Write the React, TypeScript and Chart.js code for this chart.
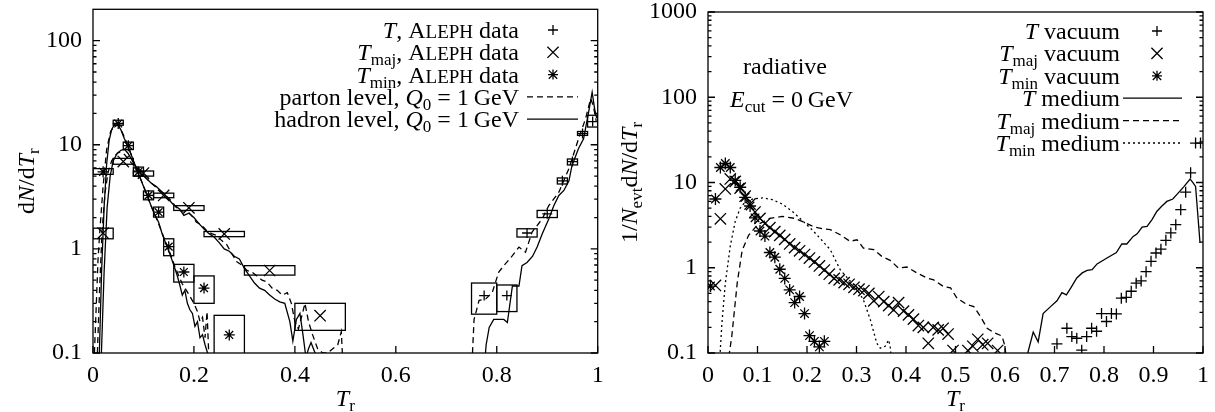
import React, { useEffect, useRef } from "react";
import { Chart, registerables } from "chart.js";

Chart.register(...registerables);

const SERIF = '"Liberation Serif", "Times New Roman", serif';
const FS = 24;
const SUB_FS = 17;

// ---------------- left panel ----------------
const L_X_TICKS = [0, 0.2, 0.4, 0.6, 0.8, 1];
const L_X_LABELS = ["0", "0.2", "0.4", "0.6", "0.8", "1"];
const L_Y_TICKS = [0.1, 1, 10, 100];
const L_Y_LABELS = ["0.1", "1", "10", "100"];

// T, ALEPH data
const T_X = [0.775, 0.82, 0.86, 0.9, 0.93, 0.95, 0.97, 0.99];
const T_Y = [0.356, 0.356, 1.42, 2.17, 4.5, 6.9, 12.8, 16.7];
const T_XLO = [0.75, 0.8, 0.84, 0.88, 0.92, 0.94, 0.96, 0.98];
const T_XHI = [0.8, 0.84, 0.88, 0.92, 0.94, 0.96, 0.98, 1.0];
const T_YLO = [0.236, 0.25, 1.3, 2.0, 4.2, 6.4, 12.3, 14.8];
const T_YHI = [0.47, 0.45, 1.56, 2.34, 4.8, 7.3, 13.4, 19.2];

// T_maj, ALEPH data
const TMAJ_X = [0.02, 0.06, 0.1, 0.14, 0.19, 0.26, 0.35, 0.45];
const TMAJ_Y = [1.42, 6.9, 5.35, 3.26, 2.48, 1.39, 0.62, 0.228];
const TMAJ_XLO = [0, 0.04, 0.08, 0.12, 0.16, 0.22, 0.3, 0.4];
const TMAJ_XHI = [0.04, 0.08, 0.12, 0.16, 0.22, 0.3, 0.4, 0.5];
const TMAJ_YLO = [1.25, 6.5, 5.0, 3.1, 2.34, 1.31, 0.56, 0.165];
const TMAJ_YHI = [1.58, 7.4, 5.6, 3.43, 2.6, 1.47, 0.69, 0.3];

// T_min, ALEPH data
const TMIN_X = [0.02, 0.05, 0.07, 0.09, 0.11, 0.13, 0.15, 0.18, 0.22, 0.27];
const TMIN_Y = [5.5, 16, 9.8, 5.5, 3.26, 2.25, 1.05, 0.6, 0.42, 0.149];
const TMIN_XLO = [0, 0.04, 0.06, 0.08, 0.1, 0.12, 0.14, 0.16, 0.2, 0.24];
const TMIN_XHI = [0.04, 0.06, 0.08, 0.1, 0.12, 0.14, 0.16, 0.2, 0.24, 0.3];
const TMIN_YLO = [5.2, 15.4, 9.0, 5.0, 2.96, 2.02, 0.86, 0.48, 0.3, 0.09];
const TMIN_YHI = [5.9, 17.2, 10.6, 6.1, 3.6, 2.52, 1.25, 0.71, 0.55, 0.23];

// hadron level (solid) / parton level (dashed), Q0 = 1 GeV
const HAD_TMIN_X = [0.012, 0.017, 0.022, 0.027, 0.032, 0.037, 0.042, 0.047, 0.055, 0.062, 0.07, 0.078, 0.085, 0.092, 0.1, 0.107, 0.115, 0.122, 0.13, 0.137, 0.145, 0.152, 0.16, 0.167, 0.172, 0.177, 0.182, 0.187, 0.192, 0.197, 0.202, 0.207, 0.212, 0.217, 0.222, 0.227, 0.232];
const HAD_TMIN_Y = [0.08, 0.6, 2.5, 6.5, 11, 14, 15.5, 16.2, 14, 11.5, 9.5, 7.5, 6, 5, 4, 3.3, 2.6, 2.15, 1.8, 1.4, 1.1, 0.9, 0.7, 0.55, 0.45, 0.36, 0.4, 0.3, 0.26, 0.24, 0.18, 0.2, 0.14, 0.15, 0.12, 0.1, 0.08];
const PAR_TMIN_X = [0.002, 0.006, 0.01, 0.014, 0.02, 0.027, 0.035, 0.042, 0.05, 0.057, 0.065, 0.072, 0.08, 0.088, 0.095, 0.103, 0.11, 0.118, 0.125, 0.133, 0.14, 0.148, 0.155, 0.162, 0.17, 0.177, 0.185, 0.192, 0.2, 0.207, 0.212, 0.217, 0.222, 0.226, 0.23];
const PAR_TMIN_Y = [0.08, 0.25, 0.8, 1.6, 4, 9, 13.5, 15, 15.5, 13.5, 11, 9, 7, 5.6, 4.6, 3.7, 3.0, 2.4, 2.0, 1.6, 1.3, 1.05, 0.85, 0.68, 0.55, 0.46, 0.4, 0.35, 0.3, 0.25, 0.2, 0.22, 0.14, 0.25, 0.08];
const HAD_TMAJ_X = [0.016, 0.022, 0.028, 0.034, 0.04, 0.048, 0.056, 0.063, 0.07, 0.078, 0.085, 0.095, 0.105, 0.115, 0.125, 0.14, 0.158, 0.172, 0.18, 0.19, 0.2, 0.21, 0.22, 0.23, 0.24, 0.25, 0.26, 0.27, 0.28, 0.29, 0.3, 0.31, 0.32, 0.33, 0.34, 0.35, 0.36, 0.37, 0.38, 0.39, 0.396, 0.403, 0.41, 0.416, 0.422, 0.427, 0.432, 0.44, 0.445];
const HAD_TMAJ_Y = [0.08, 0.6, 2.5, 5, 7, 8.3, 8.9, 9.0, 8.2, 7.0, 6.2, 5.3, 4.8, 4.3, 4.0, 3.4, 2.7, 2.4, 2.1, 2.2, 2.0, 1.75, 1.55, 1.4, 1.3, 1.15, 1.0, 0.95, 0.85, 0.8, 0.65, 0.55, 0.47, 0.42, 0.4, 0.36, 0.33, 0.31, 0.3, 0.2, 0.13, 0.21, 0.24, 0.15, 0.09, 0.11, 0.126, 0.1, 0.08];
const PAR_TMAJ_X = [0.008, 0.013, 0.018, 0.024, 0.03, 0.037, 0.045, 0.052, 0.06, 0.068, 0.076, 0.085, 0.095, 0.105, 0.115, 0.125, 0.14, 0.155, 0.165, 0.175, 0.185, 0.195, 0.205, 0.215, 0.225, 0.235, 0.245, 0.255, 0.265, 0.275, 0.285, 0.295, 0.305, 0.315, 0.325, 0.335, 0.345, 0.355, 0.365, 0.375, 0.385, 0.393, 0.4, 0.407, 0.413, 0.42, 0.427, 0.435, 0.445, 0.455, 0.465, 0.475, 0.485, 0.492, 0.495];
const PAR_TMAJ_Y = [0.08, 0.4, 1.5, 3.5, 5.5, 7, 8, 8.5, 8.3, 7.5, 6.7, 6.0, 5.4, 4.8, 4.3, 3.9, 3.4, 2.9, 2.5, 2.3, 2.35, 2.1, 1.8, 1.7, 1.5, 1.4, 1.35, 1.2, 1.1, 0.9, 0.75, 0.7, 0.62, 0.6, 0.55, 0.5, 0.48, 0.42, 0.4, 0.36, 0.38, 0.3, 0.2, 0.17, 0.22, 0.3, 0.2, 0.15, 0.11, 0.1, 0.1, 0.11, 0.12, 0.16, 0.08];
const HAD_T_X = [0.776, 0.779, 0.785, 0.794, 0.814, 0.821, 0.831, 0.844, 0.85, 0.86, 0.871, 0.88, 0.89, 0.903, 0.913, 0.923, 0.933, 0.943, 0.949, 0.962, 0.972, 0.982, 0.989, 0.994, 0.998];
const HAD_T_Y = [0.08, 0.12, 0.176, 0.21, 0.21, 0.196, 0.44, 0.44, 0.69, 0.74, 0.85, 1.04, 1.39, 1.94, 2.6, 3.26, 3.64, 4.5, 6.3, 9.2, 11.4, 20.6, 32, 22, 18];
const PAR_T_X = [0.751, 0.755, 0.765, 0.778, 0.791, 0.804, 0.814, 0.831, 0.844, 0.857, 0.87, 0.89, 0.903, 0.923, 0.943, 0.962, 0.976, 0.986, 0.991, 0.997];
const PAR_T_Y = [0.08, 0.21, 0.32, 0.33, 0.38, 0.6, 0.69, 0.86, 1.04, 0.93, 1.45, 1.94, 2.6, 3.5, 5.9, 11.4, 17.8, 27.7, 24, 17];

// ---------------- right panel ----------------
const R_X_TICKS = [0, 0.1, 0.2, 0.3, 0.4, 0.5, 0.6, 0.7, 0.8, 0.9, 1];
const R_X_LABELS = ["0", "0.1", "0.2", "0.3", "0.4", "0.5", "0.6", "0.7", "0.8", "0.9", "1"];
const R_Y_TICKS = [0.1, 1, 10, 100, 1000];
const R_Y_LABELS = ["0.1", "1", "10", "100", "1000"];

const TV_X = [0.705, 0.725, 0.735, 0.745, 0.755, 0.765, 0.775, 0.785, 0.795, 0.805, 0.815, 0.825, 0.835, 0.845, 0.855, 0.865, 0.875, 0.885, 0.895, 0.905, 0.915, 0.925, 0.935, 0.945, 0.955, 0.965, 0.975, 0.985, 0.995];
const TV_Y = [0.128, 0.195, 0.156, 0.149, 0.108, 0.156, 0.195, 0.18, 0.29, 0.234, 0.29, 0.287, 0.44, 0.45, 0.53, 0.66, 0.7, 0.9, 1.19, 1.49, 1.65, 2.1, 2.56, 3.2, 4.8, 7.7, 13, 29, 29];
const TMAJV_X = [0.015, 0.025, 0.035, 0.045, 0.055, 0.065, 0.075, 0.085, 0.095, 0.105, 0.115, 0.125, 0.135, 0.145, 0.155, 0.165, 0.175, 0.185, 0.195, 0.205, 0.215, 0.225, 0.235, 0.245, 0.255, 0.265, 0.275, 0.285, 0.295, 0.305, 0.315, 0.325, 0.335, 0.345, 0.355, 0.365, 0.375, 0.385, 0.395, 0.405, 0.415, 0.425, 0.435, 0.445, 0.455, 0.465, 0.475, 0.485, 0.495, 0.525, 0.535, 0.545, 0.555, 0.565, 0.585];
const TMAJV_Y = [0.62, 3.75, 8.4, 11, 10.3, 8.6, 6.9, 5.6, 4.5, 3.8, 3.3, 2.95, 2.65, 2.4, 2.15, 1.9, 1.72, 1.58, 1.43, 1.3, 1.17, 1.05, 0.94, 0.84, 0.75, 0.72, 0.67, 0.64, 0.59, 0.56, 0.54, 0.5, 0.41, 0.46, 0.4, 0.36, 0.32, 0.39, 0.31, 0.28, 0.25, 0.21, 0.2, 0.13, 0.2, 0.187, 0.195, 0.167, 0.107, 0.107, 0.12, 0.145, 0.125, 0.13, 0.107];
const TMINV_X = [0.005, 0.015, 0.025, 0.035, 0.045, 0.055, 0.065, 0.075, 0.085, 0.095, 0.105, 0.115, 0.125, 0.135, 0.145, 0.155, 0.165, 0.175, 0.185, 0.195, 0.205, 0.215, 0.225, 0.235];
const TMINV_Y = [0.61, 6.4, 15, 16.7, 15, 10.6, 8.8, 6.7, 5.3, 3.85, 2.7, 2.35, 1.51, 1.33, 0.96, 0.75, 0.55, 0.39, 0.46, 0.29, 0.16, 0.137, 0.118, 0.137];
const TM_X = [0.645, 0.657, 0.667, 0.677, 0.692, 0.705, 0.715, 0.724, 0.733, 0.745, 0.756, 0.766, 0.776, 0.786, 0.806, 0.825, 0.836, 0.846, 0.859, 0.867, 0.877, 0.887, 0.897, 0.907, 0.917, 0.927, 0.939, 0.947, 0.961, 0.974, 0.98, 0.985, 0.994];
const TM_Y = [0.095, 0.176, 0.135, 0.29, 0.35, 0.41, 0.51, 0.48, 0.58, 0.76, 0.87, 0.93, 0.95, 1.11, 1.3, 1.51, 1.9, 1.9, 2.33, 2.5, 3.0, 3.05, 3.67, 4.6, 5.3, 6.0, 6.4, 7.2, 8.9, 11, 9.9, 9, 1.95];
const TMAJM_X = [0.042, 0.048, 0.059, 0.069, 0.082, 0.1, 0.125, 0.15, 0.175, 0.195, 0.215, 0.235, 0.247, 0.267, 0.287, 0.301, 0.314, 0.335, 0.351, 0.368, 0.385, 0.402, 0.422, 0.442, 0.456, 0.476, 0.49, 0.503, 0.523, 0.537, 0.55, 0.564, 0.577, 0.594, 0.6, 0.602];
const TMAJM_Y = [0.09, 0.156, 0.66, 1.6, 2.4, 3.2, 3.8, 4.0, 3.8, 3.4, 3.0, 2.85, 2.8, 2.44, 2.04, 2.13, 1.7, 1.63, 1.36, 1.22, 0.99, 1.02, 0.87, 0.76, 0.72, 0.6, 0.58, 0.44, 0.37, 0.35, 0.27, 0.195, 0.174, 0.158, 0.12, 0.09];
const TMINM_X = [0.024, 0.028, 0.035, 0.045, 0.055, 0.065, 0.075, 0.09, 0.11, 0.13, 0.15, 0.17, 0.19, 0.21, 0.23, 0.247, 0.267, 0.285, 0.298, 0.314, 0.328, 0.341, 0.348, 0.358, 0.365, 0.368, 0.37];
const TMINM_Y = [0.09, 0.22, 0.66, 1.8, 3.5, 5.0, 5.9, 6.4, 6.6, 6.3, 5.6, 4.6, 3.6, 2.8, 2.1, 1.63, 0.95, 0.72, 0.6, 0.42, 0.245, 0.13, 0.114, 0.12, 0.142, 0.12, 0.09];

// ---------------- text ----------------
type Seg = [string, string]; // [kind, text]  kind: r | i | sub | sc
const L_LEGEND: { segs: Seg[]; sample: string }[] = [
  { segs: [["i", "T"], ["r", ", "], ["sc", "Aleph"], ["r", " data"]], sample: "cross" },
  { segs: [["i", "T"], ["sub", "maj"], ["r", ", "], ["sc", "Aleph"], ["r", " data"]], sample: "crossRot" },
  { segs: [["i", "T"], ["sub", "min"], ["r", ", "], ["sc", "Aleph"], ["r", " data"]], sample: "star" },
  { segs: [["r", "parton level, "], ["i", "Q"], ["sub", "0"], ["r", " = 1\u2009GeV"]], sample: "dash" },
  { segs: [["r", "hadron level, "], ["i", "Q"], ["sub", "0"], ["r", " = 1\u2009GeV"]], sample: "solid" },
];
const R_LEGEND: { segs: Seg[]; sample: string }[] = [
  { segs: [["i", "T"], ["r", " vacuum"]], sample: "cross" },
  { segs: [["i", "T"], ["sub", "maj"], ["r", " vacuum"]], sample: "crossRot" },
  { segs: [["i", "T"], ["sub", "min"], ["r", " vacuum"]], sample: "star" },
  { segs: [["i", "T"], ["r", " medium"]], sample: "solid" },
  { segs: [["i", "T"], ["sub", "maj"], ["r", " medium"]], sample: "dash2" },
  { segs: [["i", "T"], ["sub", "min"], ["r", " medium"]], sample: "dot" },
];
const L_YTITLE: Seg[] = [["r", "d"], ["i", "N"], ["r", "/d"], ["i", "T"], ["sub", "r"]];
const R_YTITLE: Seg[] = [["r", "1/"], ["i", "N"], ["sub", "evt"], ["r", "d"], ["i", "N"], ["r", "/d"], ["i", "T"], ["sub", "r"]];
const XTITLE: Seg[] = [["i", "T"], ["sub", "r"]];
const NOTE1: Seg[] = [["r", "radiative"]];
const NOTE2: Seg[] = [["i", "E"], ["sub", "cut"], ["r", " = 0\u2009GeV"]];

const DASH_L = [6, 4];
const DASH_R = [6, 4];
const DOT_R = [2, 3];
const LW = 1.3;

function pieces(segs: Seg[]) {
  const out: { t: string; font: string; dy: number; w?: number }[] = [];
  for (const [k, t] of segs) {
    if (k === "sc") {
      out.push({ t: t[0], font: `${FS}px ${SERIF}`, dy: 0 });
      out.push({ t: t.slice(1).toUpperCase(), font: `${Math.round(FS * 0.78)}px ${SERIF}`, dy: 0 });
    } else if (k === "i") out.push({ t, font: `italic ${FS}px ${SERIF}`, dy: 0 });
    else if (k === "sub") out.push({ t, font: `${SUB_FS}px ${SERIF}`, dy: 5 });
    else out.push({ t, font: `${FS}px ${SERIF}`, dy: 0 });
  }
  return out;
}

function drawRich(ctx: CanvasRenderingContext2D, segs: Seg[], x: number, y: number, align: string) {
  const ps = pieces(segs);
  let w = 0;
  for (const p of ps) {
    ctx.font = p.font;
    p.w = ctx.measureText(p.t).width;
    w += p.w;
  }
  let cx = align === "right" ? x - w : align === "center" ? x - w / 2 : x;
  ctx.textAlign = "left";
  ctx.textBaseline = "alphabetic";
  ctx.fillStyle = "#000";
  for (const p of ps) {
    ctx.font = p.font;
    ctx.fillText(p.t, cx, y + p.dy);
    cx += p.w || 0;
  }
}

function drawSymbol(ctx: CanvasRenderingContext2D, kind: string, x: number, y: number) {
  ctx.beginPath();
  if (kind === "cross" || kind === "star") {
    const r = 5;
    ctx.moveTo(x - r, y); ctx.lineTo(x + r, y);
    ctx.moveTo(x, y - r); ctx.lineTo(x, y + r);
  }
  if (kind === "crossRot" || kind === "star") {
    const r = kind === "star" ? 4.2 : 5.6;
    ctx.moveTo(x - r, y - r); ctx.lineTo(x + r, y + r);
    ctx.moveTo(x - r, y + r); ctx.lineTo(x + r, y - r);
  }
  ctx.stroke();
}

function logTicks(min: number, max: number) {
  const out: number[] = [];
  for (let e = Math.floor(Math.log10(min)); e <= Math.ceil(Math.log10(max)); e++) {
    for (let m = 2; m < 10; m++) {
      const v = m * Math.pow(10, e);
      if (v > min * 1.0001 && v < max * 0.9999) out.push(v);
    }
  }
  return out;
}

type PanelCfg = {
  width: number;
  offset: number;
  yWidth: number;
  padding: { left: number; right: number; top: number; bottom: number };
  yMax: number;
  xTicks: number[];
  xLabels: string[];
  yTicks: number[];
  yLabels: string[];
  datasets: any[];
  boxes: { xlo: number[]; xhi: number[]; ylo: number[]; yhi: number[] }[];
  legend: { segs: Seg[]; sample: string }[];
  legendRows: number[];
  textRight: number;
  sampleX: number;
  lineX0: number;
  lineX1: number;
  yTitle: Seg[];
  yTitleX: number;
  notes: { segs: Seg[]; x: number; y: number }[];
};

function makeDeco(cfg: PanelCfg) {
  return {
    id: "deco",
    afterDatasetsDraw(chart: any) {
      const ctx: CanvasRenderingContext2D = chart.ctx;
      const a = chart.chartArea;
      const xs = chart.scales.x;
      const ys = chart.scales.y;
      ctx.save();
      ctx.beginPath();
      ctx.rect(a.left, a.top, a.right - a.left, a.bottom - a.top);
      ctx.clip();
      ctx.strokeStyle = "#000";
      ctx.lineWidth = LW;
      for (const b of cfg.boxes) {
        for (let i = 0; i < b.xlo.length; i++) {
          const x0 = xs.getPixelForValue(b.xlo[i]);
          const x1 = xs.getPixelForValue(b.xhi[i]);
          const y0 = ys.getPixelForValue(b.yhi[i]);
          const y1 = ys.getPixelForValue(b.ylo[i]);
          ctx.strokeRect(x0, y0, x1 - x0, y1 - y0);
        }
      }
      ctx.restore();

      ctx.save();
      ctx.strokeStyle = "#000";
      ctx.lineWidth = LW;
      ctx.strokeRect(a.left, a.top, a.right - a.left, a.bottom - a.top);
      ctx.beginPath();
      for (const v of cfg.xTicks) {
        const px = xs.getPixelForValue(v);
        ctx.moveTo(px, a.bottom);
        ctx.lineTo(px, a.bottom - 7);
      }
      for (const v of cfg.yTicks) {
        const py = ys.getPixelForValue(v);
        ctx.moveTo(a.left, py); ctx.lineTo(a.left + 7, py);
        ctx.moveTo(a.right, py); ctx.lineTo(a.right - 7, py);
      }
      for (const v of logTicks(0.1, cfg.yMax)) {
        const py = ys.getPixelForValue(v);
        ctx.moveTo(a.left, py); ctx.lineTo(a.left + 3.5, py);
        ctx.moveTo(a.right, py); ctx.lineTo(a.right - 3.5, py);
      }
      ctx.stroke();
      ctx.restore();
    },
    afterDraw(chart: any) {
      const ctx: CanvasRenderingContext2D = chart.ctx;
      const a = chart.chartArea;
      ctx.save();
      ctx.strokeStyle = "#000";
      ctx.lineWidth = LW;
      cfg.legend.forEach((row, i) => {
        const cy = cfg.legendRows[i];
        drawRich(ctx, row.segs, cfg.textRight, cy + 8, "right");
        const s = row.sample;
        if (s === "cross" || s === "crossRot" || s === "star") {
          ctx.setLineDash([]);
          drawSymbol(ctx, s, cfg.sampleX, cy);
        } else {
          ctx.setLineDash(s === "dash" ? DASH_L : s === "dash2" ? DASH_R : s === "dot" ? DOT_R : []);
          ctx.beginPath();
          ctx.moveTo(cfg.lineX0, cy);
          ctx.lineTo(cfg.lineX1, cy);
          ctx.stroke();
          ctx.setLineDash([]);
        }
      });
      for (const n of cfg.notes) drawRich(ctx, n.segs, n.x, n.y, "left");
      // x title
      drawRich(ctx, XTITLE, (a.left + a.right) / 2, 406, "center");
      // y title
      ctx.save();
      ctx.translate(cfg.yTitleX, (a.top + a.bottom) / 2);
      ctx.rotate(-Math.PI / 2);
      drawRich(ctx, cfg.yTitle, 0, 0, "center");
      ctx.restore();
      ctx.restore();
    },
  };
}

function pts(xs: number[], ys: number[]) {
  return xs.map((x, i) => ({ x, y: ys[i] }));
}
function pointSet(xs: number[], ys: number[], style: string, r: number) {
  return {
    data: pts(xs, ys),
    showLine: false,
    pointStyle: style,
    pointRadius: r,
    pointHoverRadius: r,
    borderColor: "#000",
    backgroundColor: "rgba(0,0,0,0)",
    pointBorderWidth: LW,
    borderWidth: LW,
  };
}
function lineSet(xs: number[], ys: number[], dash: number[]) {
  return {
    data: pts(xs, ys),
    showLine: true,
    pointRadius: 0,
    pointHoverRadius: 0,
    borderColor: "#000",
    backgroundColor: "rgba(0,0,0,0)",
    borderWidth: LW,
    borderDash: dash,
    tension: 0,
    fill: false,
    clip: 0,
  };
}

const tickFont = { family: SERIF, size: FS };

function buildChart(canvas: HTMLCanvasElement, cfg: PanelCfg) {
  return new Chart(canvas, {
    type: "scatter",
    data: { datasets: cfg.datasets },
    options: {
      animation: false,
      responsive: false,
      events: [],
      layout: { padding: cfg.padding },
      plugins: { legend: { display: false }, tooltip: { enabled: false } },
      scales: {
        x: {
          type: "linear",
          min: 0,
          max: 1,
          grid: { display: false, drawTicks: false },
          border: { display: false },
          afterBuildTicks: (s: any) => {
            s.ticks = cfg.xTicks.map((v) => ({ value: v }));
          },
          ticks: {
            callback: (_v: any, i: number) => cfg.xLabels[i],
            font: tickFont,
            color: "#000",
            padding: 8,
            maxRotation: 0,
            autoSkip: false,
          },
          afterFit: (s: any) => {
            s.height = 59;
            s.paddingLeft = 0;
            s.paddingRight = 0;
            s.paddingTop = 0;
            s.paddingBottom = 0;
          },
        },
        y: {
          type: "logarithmic",
          min: 0.1,
          max: cfg.yMax,
          grid: { display: false, drawTicks: false },
          border: { display: false },
          afterBuildTicks: (s: any) => {
            s.ticks = cfg.yTicks.map((v) => ({ value: v }));
          },
          ticks: {
            callback: (_v: any, i: number) => cfg.yLabels[i],
            font: tickFont,
            color: "#000",
            padding: 11,
            autoSkip: false,
          },
          afterFit: (s: any) => {
            s.width = cfg.yWidth;
            s.paddingLeft = 0;
            s.paddingRight = 0;
            s.paddingTop = 0;
            s.paddingBottom = 0;
          },
        },
      },
    } as any,
    plugins: [makeDeco(cfg) as any],
  });
}

const leftCfg: PanelCfg = {
  width: 607,
  offset: 0,
  yWidth: 93,
  padding: { left: 0, right: 8, top: 9, bottom: 0 },
  yMax: 200,
  xTicks: L_X_TICKS,
  xLabels: L_X_LABELS,
  yTicks: L_Y_TICKS,
  yLabels: L_Y_LABELS,
  datasets: [
    pointSet(TMIN_X, TMIN_Y, "star", 5.5),
    pointSet(TMAJ_X, TMAJ_Y, "crossRot", 8),
    pointSet(T_X, T_Y, "cross", 5),
    lineSet(HAD_TMIN_X, HAD_TMIN_Y, []),
    lineSet(PAR_TMIN_X, PAR_TMIN_Y, DASH_L),
    lineSet(HAD_TMAJ_X, HAD_TMAJ_Y, []),
    lineSet(PAR_TMAJ_X, PAR_TMAJ_Y, DASH_L),
    lineSet(HAD_T_X, HAD_T_Y, []),
    lineSet(PAR_T_X, PAR_T_Y, DASH_L),
  ],
  boxes: [
    { xlo: T_XLO, xhi: T_XHI, ylo: T_YLO, yhi: T_YHI },
    { xlo: TMAJ_XLO, xhi: TMAJ_XHI, ylo: TMAJ_YLO, yhi: TMAJ_YHI },
    { xlo: TMIN_XLO, xhi: TMIN_XHI, ylo: TMIN_YLO, yhi: TMIN_YHI },
  ],
  legend: L_LEGEND,
  legendRows: [30, 52.3, 74.6, 96.9, 119.2],
  textRight: 519,
  sampleX: 553,
  lineX0: 527,
  lineX1: 578,
  yTitle: L_YTITLE,
  yTitleX: 34,
  notes: [],
};

const rightCfg: PanelCfg = {
  width: 608,
  offset: 607,
  yWidth: 101,
  padding: { left: 0, right: 12, top: 12, bottom: 0 },
  yMax: 1000,
  xTicks: R_X_TICKS,
  xLabels: R_X_LABELS,
  yTicks: R_Y_TICKS,
  yLabels: R_Y_LABELS,
  datasets: [
    pointSet(TV_X, TV_Y, "cross", 5.5),
    pointSet(TMAJV_X, TMAJV_Y, "crossRot", 8),
    pointSet(TMINV_X, TMINV_Y, "star", 6),
    lineSet(TM_X, TM_Y, []),
    lineSet(TMAJM_X, TMAJM_Y, DASH_R),
    lineSet(TMINM_X, TMINM_Y, DOT_R),
  ],
  boxes: [],
  legend: R_LEGEND,
  legendRows: [31, 53.4, 75.8, 98.2, 120.6, 143],
  textRight: 513,
  sampleX: 550,
  lineX0: 516,
  lineX1: 575,
  yTitle: R_YTITLE,
  yTitleX: 30,
  notes: [
    { segs: NOTE1, x: 136, y: 74 },
    { segs: NOTE2, x: 123, y: 107 },
  ],
};

function Panel({ cfg }: { cfg: PanelCfg }) {
  const ref = useRef<HTMLCanvasElement | null>(null);
  useEffect(() => {
    if (!ref.current) return;
    const chart = buildChart(ref.current, cfg);
    return () => chart.destroy();
  }, [cfg]);
  return (
    <canvas
      ref={ref}
      width={cfg.width}
      height={412}
      style={{ position: "absolute", left: cfg.offset, top: 0, width: cfg.width, height: 412 }}
    />
  );
}

export default function App() {
  return (
    <div style={{ position: "absolute", left: 0, top: 0, width: 1215, height: 412, background: "#fff", overflow: "hidden" }}>
      <Panel cfg={leftCfg} />
      <Panel cfg={rightCfg} />
    </div>
  );
}
